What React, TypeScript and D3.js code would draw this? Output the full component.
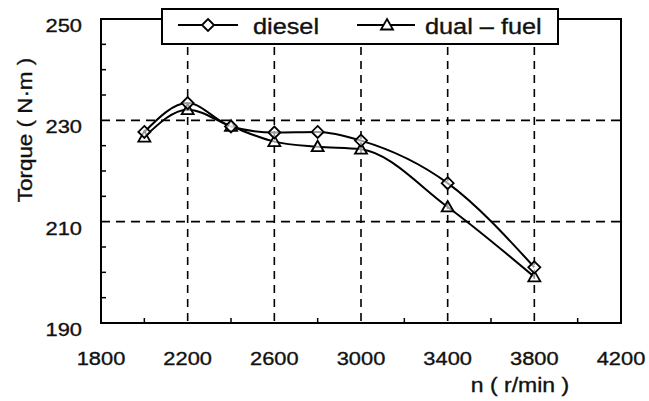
import React from "react";
import * as d3 from "d3";

const speeds = [2000, 2200, 2400, 2600, 2800, 3000, 3400, 3800];
const diesel = [227.7, 233.4, 228.8, 227.6, 227.7, 226.0, 217.6, 201.0];
const dualFuel = [226.7, 232.1, 228.8, 225.8, 224.8, 224.3, 212.9, 199.1];
const xTicks = [1800, 2200, 2600, 3000, 3400, 3800, 4200];
const xMinor = [2000, 2400, 2800, 3200, 3600, 4000];
const yTicks = [190, 210, 230, 250];
const yMinor = [195, 200, 205, 215, 220, 225, 235, 240, 245];
const xGrid = [2200, 2600, 3000, 3400, 3800];
const yGrid = [210, 230];

const W = 649;
const H = 401;
const L = 101, R = 621, T = 19, B = 323;
const FONT = "'Liberation Sans', Arial, sans-serif";

function Label(props: {
  x: number;
  y: number;
  size: number;
  anchor?: "start" | "middle" | "end";
  rotate?: number;
  children: React.ReactNode;
}) {
  const { x, y, size, anchor = "start", rotate = 0, children } = props;
  return (
    <text
      transform={`translate(${x},${y}) rotate(${rotate}) scale(1.15,1)`}
      textAnchor={anchor}
      fontFamily={FONT}
      fontSize={size}
      fill="#111"
      stroke="#111"
      strokeWidth={0.35}
    >
      {children}
    </text>
  );
}

export default function App() {
  const x = d3.scaleLinear().domain([1800, 4200]).range([L, R]);
  const y = d3.scaleLinear().domain([190, 250]).range([B, T]);
  const line = d3
    .line<number>()
    .x((_, i) => x(speeds[i]))
    .y((d) => y(d))
    .curve(d3.curveMonotoneX);

  const diamond = (cx: number, cy: number, r = 6) =>
    `M${cx},${cy - r}L${cx + r},${cy}L${cx},${cy + r}L${cx - r},${cy}Z`;
  const tri = (cx: number, cy: number, r = 6) =>
    `M${cx},${cy - r}L${cx + r},${cy + r * 0.75}L${cx - r},${cy + r * 0.75}Z`;

  return (
    <svg
      width={W}
      height={H}
      style={{ position: "absolute", left: 0, top: 0, background: "#fff" }}
    >
      {/* grid */}
      {xGrid.map((v) => (
        <line
          key={"gx" + v}
          x1={x(v)}
          x2={x(v)}
          y1={T}
          y2={B}
          stroke="#000"
          strokeWidth={1.6}
          strokeDasharray="8,6"
        />
      ))}
      {yGrid.map((v) => (
        <line
          key={"gy" + v}
          x1={L}
          x2={R}
          y1={y(v)}
          y2={y(v)}
          stroke="#000"
          strokeWidth={1.6}
          strokeDasharray="9,6"
        />
      ))}
      {/* frame */}
      <rect x={L} y={T} width={R - L} height={B - T} fill="none" stroke="#000" strokeWidth={2} />
      {/* minor ticks */}
      {yMinor.map((v) => (
        <line key={"ym" + v} x1={L} x2={L + 5} y1={y(v)} y2={y(v)} stroke="#000" strokeWidth={1.5} />
      ))}
      {xMinor.map((v) => (
        <line key={"xm" + v} x1={x(v)} x2={x(v)} y1={B} y2={B - 5} stroke="#000" strokeWidth={1.5} />
      ))}
      {/* tick labels */}
      {yTicks.map((v) => (
        <Label key={"yl" + v} x={L - 19} y={y(v) + 13} size={19} anchor="end">
          {v}
        </Label>
      ))}
      {xTicks.map((v) => (
        <Label key={"xl" + v} x={x(v)} y={365} size={19} anchor="middle">
          {v}
        </Label>
      ))}
      {/* axis titles */}
      <Label x={520} y={392} size={20} anchor="middle">
        n ( r/min )
      </Label>
      <Label x={32} y={130} size={19.5} anchor="middle" rotate={-90}>
        Torque ( N·m )
      </Label>
      {/* series */}
      <path d={line(diesel) || ""} fill="none" stroke="#000" strokeWidth={2} />
      <path d={line(dualFuel) || ""} fill="none" stroke="#000" strokeWidth={2} />
      {dualFuel.map((v, i) => (
        <path key={"t" + i} d={tri(x(speeds[i]), y(v))} fill="#fff" fillOpacity={0.6} stroke="#000" strokeWidth={1.8} />
      ))}
      {diesel.map((v, i) => (
        <path key={"d" + i} d={diamond(x(speeds[i]), y(v))} fill="#fff" fillOpacity={0.6} stroke="#000" strokeWidth={1.8} />
      ))}
      {/* legend */}
      <rect x={162} y={9} width={396} height={35} fill="#fff" stroke="#000" strokeWidth={2} />
      <line x1={178} x2={238} y1={25} y2={25} stroke="#000" strokeWidth={2} />
      <path d={diamond(208, 25)} fill="#fff" stroke="#000" strokeWidth={1.8} />
      <Label x={253} y={34} size={22}>diesel</Label>
      <line x1={357} x2={415} y1={25} y2={25} stroke="#000" strokeWidth={2} />
      <path d={tri(387, 25)} fill="#fff" stroke="#000" strokeWidth={1.8} />
      <Label x={425} y={34} size={22}>dual – fuel</Label>
    </svg>
  );
}
